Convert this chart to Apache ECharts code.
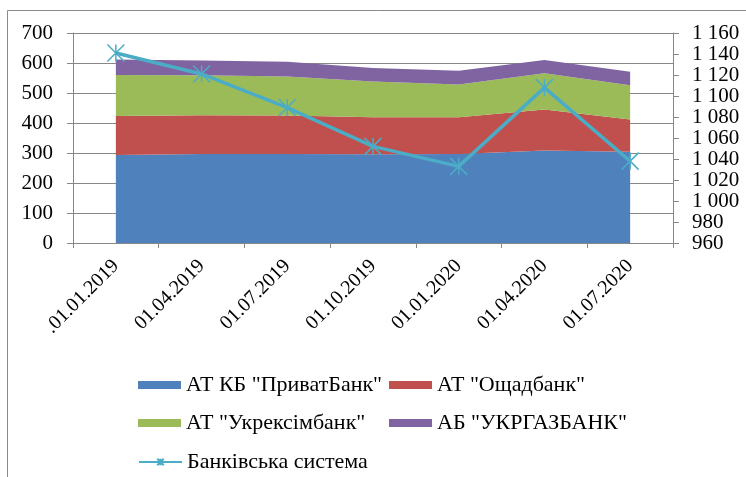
<!DOCTYPE html>
<html>
<head>
<meta charset="utf-8">
<script src="https://cdn.jsdelivr.net/npm/echarts@6/dist/echarts.min.js"></script>
<style>
  html, body { margin: 0; padding: 0; background: #fff; }
  #chart { width: 746px; height: 477px; }
</style>
</head>
<body>
<div id="chart"></div>
<script>
// дані
const categories = ['.01.01.2019', '01.04.2019', '01.07.2019', '01.10.2019', '01.01.2020', '01.04.2020', '01.07.2020'];
const privatBank = [293, 297, 297, 296, 297, 308, 304];
const oschadBank = [130, 129, 128, 123, 122, 137, 108];
const ukreximBank = [137, 133, 130, 119, 109, 121, 114];
const ukrgazBank = [52, 49, 49, 45, 46, 44, 45];
const bankSystem = [1141, 1121, 1089, 1052, 1033, 1108, 1038];

const names = ['АТ КБ "ПриватБанк"', 'АТ "Ощадбанк"', 'АТ "Укрексімбанк"', 'АБ "УКРГАЗБАНК"', 'Банківська система'];
const colors = ['#4F81BD', '#C0504D', '#9BBB59', '#8064A2', '#4BACC6'];

const font = "'Liberation Serif', 'Times New Roman', serif";
const gridColor = '#878787';
const star = 'path://M0,0L10,10M10,0L0,10M5,0L5,10';

function areaSeries(name, data, color) {
  return {
    name: name,
    type: 'line',
    stack: 'banks',
    data: data,
    showSymbol: false,
    color: color,
    lineStyle: { width: 0 },
    areaStyle: { color: color, opacity: 1 }
  };
}

function legendAt(left, top, name, isLine) {
  return {
    left: left,
    top: top,
    itemWidth: 43,
    itemHeight: 8,
    textStyle: { fontFamily: font, fontSize: 22, color: '#000' },
    data: [isLine ? { name: name } : { name: name, icon: 'rect' }]
  };
}

const chart = echarts.init(document.getElementById('chart'));
chart.setOption({
  animation: false,
  graphic: [{
    type: 'rect',
    shape: { x: 7.5, y: 10.5, width: 900, height: 600 },
    style: { fill: 'none', stroke: '#8a8a8a', lineWidth: 1 }
  }],
  legend: [
    legendAt(133, 369, names[0]),
    legendAt(384, 369, names[1]),
    legendAt(133, 407, names[2]),
    legendAt(384, 407, names[3]),
    legendAt(133, 446, names[4], true)
  ],
  grid: { left: 73, right: 73, top: 33, height: 210 },
  xAxis: {
    type: 'category',
    data: categories,
    boundaryGap: true,
    axisLine: { lineStyle: { color: gridColor } },
    axisTick: { show: true, length: 5, lineStyle: { color: gridColor } },
    axisLabel: { rotate: 45, margin: 20, fontFamily: font, fontSize: 20, color: '#000' }
  },
  yAxis: [{
    type: 'value',
    min: 0,
    max: 700,
    interval: 100,
    axisLine: { show: true, lineStyle: { color: gridColor } },
    axisTick: { show: true, length: 6, lineStyle: { color: gridColor } },
    splitLine: { lineStyle: { color: gridColor } },
    axisLabel: { margin: 20, fontFamily: font, fontSize: 21, color: '#000' }
  }, {
    type: 'value',
    position: 'right',
    min: 960,
    max: 1160,
    interval: 20,
    axisLine: { show: true, lineStyle: { color: gridColor } },
    axisTick: { show: true, length: 6, lineStyle: { color: gridColor } },
    splitLine: { show: false },
    axisLabel: {
      margin: 19,
      fontFamily: font,
      fontSize: 21,
      color: '#000',
      formatter: function (v) {
        return v >= 1000 ? Math.floor(v / 1000) + ' ' + String(v % 1000).padStart(3, '0') : String(v);
      }
    }
  }],
  series: [
    areaSeries(names[0], privatBank, colors[0]),
    areaSeries(names[1], oschadBank, colors[1]),
    areaSeries(names[2], ukreximBank, colors[2]),
    areaSeries(names[3], ukrgazBank, colors[3]),
    {
      name: names[4],
      type: 'line',
      yAxisIndex: 1,
      data: bankSystem,
      z: 5,
      color: colors[4],
      symbol: star,
      symbolSize: 17,
      showSymbol: true,
      lineStyle: { width: 3.5, color: colors[4] },
      itemStyle: { color: colors[4], borderColor: colors[4], borderWidth: 1.5 }
    }
  ]
});
</script>
</body>
</html>
